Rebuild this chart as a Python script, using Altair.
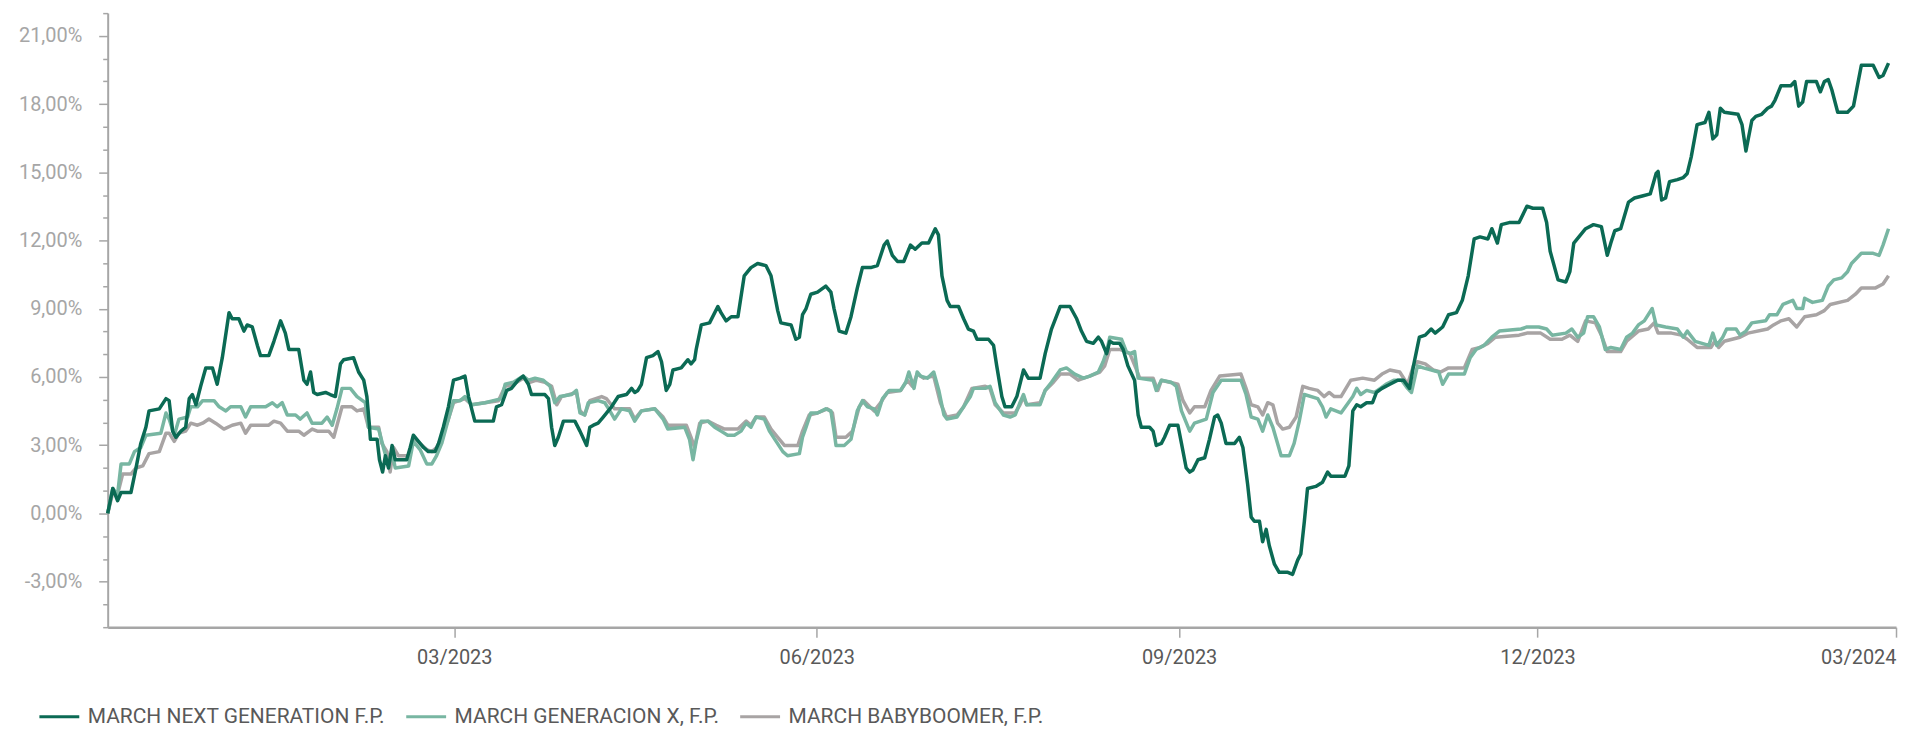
import altair as alt
import pandas as pd

START = "2022-12-03"
SERIES = ["MARCH NEXT GENERATION F.P.", "MARCH GENERACION X, F.P.", "MARCH BABYBOOMER, F.P."]
COLORS = ["#0b6a54", "#78b6a2", "#a8a4a4"]

# days after START, cumulative return in %
ng_days = [0.0, 1.3, 2.5, 3.4, 5.9, 7.2, 8.4, 9.7, 10.5, 13.1, 14.8, 15.6, 16.5, 17.3, 18.6, 19.8, 20.7, 21.5, 22.4, 23.6,
           24.9, 26.6, 27.8, 29.1, 30.8, 31.6, 33.3, 34.6, 35.4, 36.7, 38.0, 38.8, 40.9, 42.2, 43.9, 45.1, 46.0, 48.5, 49.8, 50.6,
           51.5, 52.3, 53.2, 55.3, 56.5, 57.8, 59.1, 59.9, 62.4, 63.7, 65.0, 65.8, 66.4, 66.7, 68.4, 69.0, 69.8, 70.5, 71.3, 72.2,
           73.0, 75.9, 76.8, 77.6, 78.9, 80.2, 81.4, 83.1, 84.0, 85.2, 86.5, 87.8, 89.5, 90.7, 91.6, 93.2, 97.9, 98.7, 100.0, 101.3,
           102.5, 104.2, 105.5, 106.8, 107.6, 111.0, 111.9, 112.7, 113.5, 114.4, 115.7, 118.6, 119.9, 121.6, 122.4, 123.3, 124.5, 125.8, 127.9, 129.6,
           131.7, 133.0, 133.8, 134.6, 135.5, 136.8, 138.4, 139.7, 140.6, 141.8, 142.7, 143.5, 145.6, 147.3, 148.1, 149.0, 149.4, 150.7, 152.8, 154.9,
           155.7, 157.0, 158.3, 160.0, 161.6, 163.3, 165.0, 167.1, 168.4, 170.1, 170.9, 173.5, 174.7, 175.6, 176.4, 177.3, 178.5, 180.2, 182.3, 183.6,
           184.4, 185.7, 187.4, 188.7, 190.3, 191.6, 193.7, 195.4, 197.1, 197.9, 199.2, 200.5, 202.1, 203.8, 205.0, 206.7, 208.4, 210.1, 210.9, 211.8,
           213.1, 213.9, 216.0, 217.3, 218.5, 219.8, 220.7, 223.6, 224.9, 225.7, 227.0, 227.8, 229.5, 230.8, 232.5, 233.7, 236.7, 238.0, 239.6, 241.8,
           244.3, 246.0, 247.2, 248.5, 250.2, 251.5, 252.3, 253.6, 254.4, 255.3, 256.9, 257.8, 259.0, 260.7, 261.6, 262.4, 264.5, 265.4, 266.2, 267.5,
           268.3, 269.6, 271.7, 272.6, 273.8, 274.7, 275.5, 276.8, 278.5, 279.7, 281.0, 281.8, 282.7, 283.9, 286.1, 287.3, 288.2, 289.4, 290.3, 291.1,
           292.4, 293.2, 294.1, 294.9, 296.2, 297.4, 299.6, 300.8, 302.1, 302.9, 303.8, 304.6, 306.7, 308.4, 309.7, 310.5, 312.6, 314.1, 315.1, 316.1,
           317.1, 318.1, 319.6, 321.1, 322.1, 323.5, 325.5, 327.5, 329.0, 330.5, 331.5, 333.0, 334.5, 336.0, 337.0, 338.9, 340.4, 342.4, 343.9, 345.4,
           346.9, 348.4, 350.4, 351.4, 352.8, 353.8, 355.8, 358.3, 360.3, 361.8, 364.3, 365.3, 366.2, 368.2, 370.2, 371.2, 372.2, 375.2, 377.2, 379.2,
           380.7, 381.6, 382.6, 384.1, 386.1, 387.6, 389.6, 391.6, 393.1, 393.6, 394.5, 395.5, 396.5, 398.5, 400.0, 401.0, 402.0, 403.5, 405.5, 406.5,
           407.5, 408.5, 409.4, 410.4, 413.9, 414.9, 415.9, 417.4, 418.4, 419.9, 421.4, 422.4, 423.3, 424.8, 427.3, 428.3, 429.3, 430.3, 431.3, 433.8,
           434.8, 435.8, 436.8, 437.7, 439.2, 441.7, 443.2, 445.2, 448.2, 449.7, 450.7, 452.1]
ng_vals = [0.00, 1.10, 0.56, 0.92, 0.92, 2.00, 3.08, 3.79, 4.51, 4.60, 5.05, 4.96, 3.62, 3.35, 3.62, 3.79, 5.05, 5.23, 4.78, 5.59,
           6.40, 6.40, 5.68, 6.85, 8.83, 8.56, 8.56, 8.02, 8.29, 8.20, 7.39, 6.94, 6.94, 7.57, 8.47, 7.93, 7.21, 7.21, 5.86, 5.68,
           6.22, 5.32, 5.23, 5.32, 5.23, 5.14, 6.58, 6.76, 6.85, 6.22, 5.86, 5.14, 3.97, 3.26, 3.26, 2.36, 1.82, 2.54, 2.00, 2.99,
           2.36, 2.36, 2.90, 3.44, 3.17, 2.90, 2.72, 2.72, 3.08, 3.79, 4.69, 5.86, 5.95, 6.04, 5.14, 4.06, 4.06, 4.69, 4.78, 5.41,
           5.50, 5.86, 6.04, 5.68, 5.23, 5.23, 5.05, 3.79, 2.99, 3.35, 4.06, 4.06, 3.62, 2.99, 3.79, 3.88, 3.97, 4.24, 4.69, 5.14,
           5.23, 5.50, 5.32, 5.41, 5.68, 6.85, 6.94, 7.12, 6.67, 5.41, 5.68, 6.31, 6.40, 6.76, 6.58, 6.76, 7.21, 8.29, 8.38, 9.10,
           8.83, 8.47, 8.65, 8.65, 10.45, 10.81, 10.99, 10.90, 10.45, 8.92, 8.38, 8.29, 7.66, 7.75, 8.74, 9.01, 9.64, 9.73, 10.00, 9.73,
           9.01, 8.02, 7.93, 8.65, 9.91, 10.81, 10.81, 10.90, 11.80, 11.98, 11.35, 11.08, 11.08, 11.80, 11.62, 11.89, 11.89, 12.52, 12.25, 10.45,
           9.37, 9.10, 9.10, 8.56, 8.11, 8.02, 7.66, 7.66, 7.39, 6.49, 5.14, 4.69, 4.69, 5.14, 6.31, 5.95, 5.95, 7.03, 8.11, 9.10,
           9.10, 8.56, 8.02, 7.57, 7.48, 7.75, 7.57, 7.03, 7.57, 7.48, 7.48, 7.21, 6.49, 5.86, 4.33, 3.79, 3.79, 3.62, 2.99, 3.08,
           3.35, 3.88, 3.88, 3.08, 2.00, 1.82, 1.91, 2.36, 2.45, 3.26, 4.24, 4.33, 3.97, 3.08, 3.08, 3.35, 2.90, 1.28, -0.16, -0.34,
           -0.34, -1.24, -0.70, -1.42, -2.23, -2.59, -2.59, -2.68, -2.05, -1.78, -0.34, 1.10, 1.19, 1.37, 1.82, 1.64, 1.64, 1.64, 2.09, 4.51,
           4.78, 4.69, 4.87, 4.87, 5.32, 5.50, 5.68, 5.86, 5.86, 5.50, 6.49, 7.75, 7.84, 8.11, 7.93, 8.20, 8.74, 8.83, 9.37, 10.45,
           12.07, 12.16, 12.07, 12.52, 11.89, 12.70, 12.79, 12.79, 13.51, 13.42, 13.42, 12.79, 11.53, 10.27, 10.18, 10.63, 11.89, 12.52, 12.70, 12.61,
           11.35, 11.89, 12.43, 12.52, 13.69, 13.87, 13.96, 14.05, 14.95, 15.04, 13.78, 13.87, 14.59, 14.68, 14.77, 14.95, 15.67, 17.10, 17.19, 17.64,
           16.47, 16.65, 17.82, 17.64, 17.55, 17.10, 15.94, 17.28, 17.46, 17.55, 17.82, 17.91, 18.18, 18.81, 18.81, 18.99, 17.91, 18.09, 18.99, 18.99,
           18.54, 18.99, 19.08, 18.63, 17.64, 17.64, 17.91, 19.71, 19.71, 19.17, 19.26, 19.80]

gx_days = [0.0, 1.3, 2.5, 3.4, 5.5, 6.8, 8.4, 9.7, 13.5, 14.8, 15.6, 16.9, 18.1, 20.3, 21.1, 22.8, 24.1, 27.0, 28.3, 30.0,
           31.2, 33.8, 35.0, 36.3, 40.1, 41.8, 43.0, 44.3, 45.6, 47.7, 48.9, 50.6, 51.9, 54.4, 55.7, 57.0, 58.2, 59.5, 61.6, 63.3,
           65.4, 66.2, 68.8, 70.0, 71.3, 72.2, 73.0, 76.4, 77.6, 79.3, 81.0, 82.3, 83.5, 84.8, 86.5, 87.8, 89.5, 90.7, 92.4, 95.8,
           97.9, 100.0, 100.9, 103.0, 105.5, 106.8, 108.5, 110.6, 112.3, 113.5, 114.8, 117.8, 119.0, 119.9, 121.1, 122.0, 124.5, 126.2, 127.5, 128.7,
           130.4, 132.5, 133.8, 135.5, 138.9, 141.0, 142.2, 146.5, 147.7, 148.6, 149.4, 150.7, 152.4, 154.1, 155.7, 157.4, 159.1, 160.8, 162.1, 163.3,
           164.6, 166.7, 168.0, 169.7, 171.4, 172.6, 175.6, 176.4, 177.3, 178.5, 180.2, 182.3, 183.6, 184.4, 184.9, 187.0, 188.7, 190.3, 191.6, 192.9,
           194.6, 195.4, 196.7, 198.4, 201.3, 202.6, 203.4, 204.7, 205.5, 206.4, 208.1, 209.7, 211.0, 212.3, 213.1, 215.6, 217.3, 219.0, 219.8, 222.8,
           224.0, 225.3, 227.4, 229.1, 230.4, 231.6, 232.5, 233.3, 236.7, 238.0, 239.6, 241.8, 243.4, 245.5, 247.7, 249.3, 251.5, 252.7, 253.6, 254.4,
           257.4, 258.6, 259.5, 260.7, 261.6, 265.4, 266.2, 267.5, 270.0, 271.3, 272.6, 274.7, 275.9, 278.9, 280.6, 282.7, 287.7, 289.0, 290.3, 292.0,
           293.2, 294.5, 295.8, 297.0, 297.9, 300.0, 301.2, 302.5, 303.8, 307.2, 308.4, 309.3, 310.5, 313.1, 316.1, 317.1, 318.1, 319.6, 321.6, 323.1,
           324.5, 326.5, 328.5, 330.0, 331.0, 332.5, 334.0, 337.9, 338.9, 340.4, 344.4, 345.9, 347.4, 349.4, 351.4, 353.3, 358.8, 360.3, 363.3, 365.3,
           366.7, 370.2, 371.7, 373.2, 374.7, 375.7, 377.2, 378.7, 380.2, 381.6, 384.1, 385.6, 387.1, 388.6, 390.1, 392.1, 393.1, 395.5, 398.5, 400.0,
           401.0, 403.0, 406.5, 407.5, 408.5, 410.0, 411.0, 413.4, 414.4, 415.9, 417.4, 420.9, 421.9, 423.8, 425.3, 427.8, 428.8, 430.3, 430.8, 432.8,
           435.3, 436.8, 438.2, 440.2, 441.7, 442.7, 445.2, 448.2, 449.7, 450.7, 452.1]
gx_vals = [0.00, 1.10, 0.83, 2.18, 2.18, 2.72, 2.90, 3.44, 3.53, 4.42, 4.15, 3.44, 4.15, 4.24, 4.69, 4.69, 4.96, 4.96, 4.69, 4.51,
           4.69, 4.69, 4.24, 4.69, 4.69, 4.87, 4.69, 4.87, 4.33, 4.33, 4.15, 4.42, 3.97, 3.97, 4.24, 3.88, 4.60, 5.50, 5.50, 5.14,
           4.87, 3.79, 3.71, 2.90, 2.09, 2.72, 2.00, 2.09, 3.17, 2.81, 2.18, 2.18, 2.54, 3.08, 4.15, 4.96, 4.96, 5.14, 4.78, 4.87,
           4.96, 5.05, 5.68, 5.77, 6.04, 5.86, 5.95, 5.86, 5.59, 4.87, 5.14, 5.23, 5.41, 4.42, 4.33, 4.87, 4.96, 4.87, 4.51, 4.15,
           4.60, 4.51, 4.06, 4.51, 4.60, 4.15, 3.71, 3.79, 3.26, 2.36, 3.17, 4.06, 4.06, 3.79, 3.62, 3.44, 3.44, 3.62, 3.97, 3.79,
           4.24, 4.15, 3.62, 3.17, 2.72, 2.54, 2.63, 3.35, 3.79, 4.42, 4.42, 4.60, 4.51, 3.62, 2.99, 2.99, 3.26, 4.51, 4.96, 4.69,
           4.60, 4.33, 5.05, 5.41, 5.41, 5.77, 6.22, 5.50, 6.22, 6.04, 5.95, 6.22, 5.41, 4.33, 4.15, 4.24, 4.69, 5.14, 5.50, 5.50,
           5.59, 4.87, 4.33, 4.24, 4.33, 4.87, 5.23, 4.78, 4.78, 5.41, 5.77, 6.31, 6.40, 6.13, 5.95, 6.04, 6.22, 6.67, 7.12, 7.75,
           7.66, 7.12, 7.03, 7.12, 5.95, 5.86, 5.41, 5.86, 5.77, 5.59, 4.51, 3.62, 3.97, 4.15, 5.32, 5.86, 5.86, 5.23, 4.24, 4.15,
           3.62, 4.33, 3.79, 3.08, 2.54, 2.54, 3.08, 4.06, 5.23, 5.05, 4.69, 4.24, 4.60, 4.42, 5.14, 5.50, 5.23, 5.41, 5.32, 5.50,
           5.68, 5.86, 5.86, 5.50, 5.32, 6.49, 6.40, 6.22, 5.68, 6.13, 6.13, 6.85, 7.21, 7.39, 7.75, 8.02, 8.11, 8.20, 8.20, 8.11,
           7.84, 7.93, 8.11, 7.75, 7.93, 8.65, 8.65, 8.20, 7.21, 7.30, 7.21, 7.75, 7.93, 8.29, 8.47, 9.01, 8.29, 8.20, 8.11, 7.75,
           8.02, 7.57, 7.39, 7.93, 7.39, 7.75, 8.11, 8.11, 7.84, 8.02, 8.38, 8.47, 8.74, 8.74, 9.19, 9.37, 9.01, 9.01, 9.46, 9.28,
           9.37, 10.00, 10.27, 10.36, 10.63, 10.99, 11.44, 11.44, 11.35, 11.80, 12.52]

bb_days = [0.0, 1.3, 2.5, 3.8, 5.9, 7.2, 8.9, 10.5, 13.1, 14.8, 15.6, 16.9, 18.1, 19.8, 21.1, 22.8, 24.1, 25.7, 27.4, 29.5,
           31.6, 33.8, 35.0, 36.3, 40.9, 42.2, 43.9, 45.6, 48.5, 49.8, 51.9, 53.2, 56.1, 57.4, 59.5, 62.0, 63.3, 65.0, 66.2, 68.8,
           69.6, 70.9, 71.7, 72.6, 73.8, 76.4, 77.6, 79.3, 81.0, 82.3, 83.5, 84.8, 86.5, 87.8, 90.7, 92.4, 95.8, 99.2, 100.9, 103.0,
           105.5, 107.2, 108.9, 111.0, 112.7, 114.0, 115.2, 119.0, 119.9, 121.1, 122.4, 125.4, 126.6, 128.7, 132.5, 133.8, 135.5, 138.9, 141.0, 142.2,
           146.9, 148.1, 149.0, 150.3, 152.4, 154.5, 156.6, 160.0, 162.1, 163.3, 164.6, 166.7, 168.4, 170.1, 171.8, 175.2, 176.4, 178.1, 180.2, 182.7,
           184.0, 184.9, 187.4, 189.1, 190.8, 192.0, 194.6, 196.2, 197.9, 201.3, 203.0, 204.3, 205.5, 207.2, 209.7, 211.4, 212.7, 213.1, 215.6, 217.3,
           219.4, 222.8, 224.0, 225.3, 227.4, 230.4, 231.6, 232.5, 233.3, 236.7, 238.0, 240.1, 241.8, 244.3, 246.4, 249.3, 251.9, 253.1, 254.4, 257.0,
           259.5, 261.2, 262.0, 265.4, 266.6, 267.5, 271.7, 273.0, 274.7, 275.9, 278.5, 280.1, 282.3, 287.7, 289.0, 290.3, 292.0, 293.2, 294.5, 295.8,
           297.0, 298.3, 300.0, 301.7, 303.4, 305.0, 307.2, 308.8, 310.1, 311.4, 313.1, 315.6, 318.6, 321.6, 323.5, 325.5, 328.0, 330.0, 331.5, 332.5,
           334.5, 336.5, 338.4, 340.4, 344.4, 346.4, 348.4, 350.4, 352.3, 358.3, 360.3, 363.8, 366.2, 369.2, 371.2, 373.2, 375.2, 377.7, 379.2, 380.7,
           384.1, 385.6, 388.6, 391.1, 392.6, 393.6, 397.0, 399.5, 401.0, 403.5, 407.0, 408.0, 409.0, 410.4, 414.4, 416.4, 421.4, 422.9, 424.8, 426.8,
           428.8, 430.8, 433.8, 435.8, 437.3, 441.7, 443.7, 445.2, 448.7, 450.7, 452.1]
bb_vals = [0.00, 0.92, 0.83, 1.73, 1.73, 2.00, 2.09, 2.63, 2.72, 3.53, 3.53, 3.17, 3.53, 3.62, 3.97, 3.88, 3.97, 4.15, 3.97, 3.71,
           3.88, 3.97, 3.53, 3.88, 3.88, 4.06, 3.97, 3.62, 3.62, 3.44, 3.71, 3.62, 3.62, 3.35, 4.69, 4.69, 4.51, 4.60, 3.79, 3.79,
           3.08, 2.72, 1.82, 2.90, 2.54, 2.54, 3.35, 3.08, 2.81, 2.72, 2.90, 3.35, 4.15, 4.87, 5.05, 4.78, 4.87, 4.96, 5.59, 5.68,
           5.95, 5.77, 5.86, 5.77, 5.59, 4.78, 5.14, 5.32, 4.51, 4.33, 4.96, 5.14, 5.05, 4.60, 4.60, 4.15, 4.51, 4.60, 4.24, 3.88,
           3.88, 3.35, 2.90, 3.97, 4.06, 3.88, 3.71, 3.71, 4.06, 3.88, 4.24, 4.24, 3.71, 3.35, 2.99, 2.99, 3.62, 4.33, 4.42, 4.60,
           4.42, 3.35, 3.35, 3.62, 4.69, 4.96, 4.51, 4.87, 5.32, 5.41, 5.86, 5.59, 6.13, 5.95, 6.04, 4.87, 4.33, 4.24, 4.33, 4.69,
           5.50, 5.59, 5.50, 4.78, 4.42, 4.42, 4.78, 5.14, 4.78, 4.87, 5.41, 5.77, 6.13, 6.13, 5.86, 6.04, 6.22, 6.49, 7.21, 7.21,
           7.03, 6.31, 5.95, 5.95, 5.41, 5.86, 5.68, 4.96, 4.42, 4.69, 4.69, 5.41, 6.04, 6.13, 5.50, 4.78, 4.69, 4.33, 4.87, 4.78,
           3.97, 3.71, 3.79, 4.24, 5.59, 5.50, 5.41, 5.14, 5.32, 5.14, 5.14, 5.86, 5.95, 5.86, 6.13, 6.31, 6.22, 5.68, 6.49, 6.67,
           6.58, 6.31, 6.22, 6.40, 6.40, 7.21, 7.30, 7.48, 7.75, 7.84, 7.93, 7.93, 7.66, 7.66, 7.84, 7.57, 8.47, 8.38, 7.84, 7.12,
           7.12, 7.57, 8.02, 8.11, 8.38, 7.93, 7.93, 7.84, 7.66, 7.30, 7.30, 7.57, 7.30, 7.57, 7.75, 7.93, 8.11, 8.29, 8.47, 8.56,
           8.20, 8.65, 8.74, 8.92, 9.19, 9.37, 9.64, 9.91, 9.91, 10.09, 10.45]

Y_TICKS = list(range(-5, 23))
X_TICKS = [(2023, 3), (2023, 6), (2023, 9), (2023, 12), (2024, 3)]


def frame(name, days, vals):
    return pd.DataFrame({
        "date": pd.Timestamp(START) + pd.to_timedelta(days, unit="D"),
        "value": vals,
        "series": name,
    })


# draw order: babyboomer first, next generation on top
df = pd.concat([
    frame(SERIES[2], bb_days, bb_vals),
    frame(SERIES[1], gx_days, gx_vals),
    frame(SERIES[0], ng_days, ng_vals),
], ignore_index=True)

FONT = "Roboto"
AXIS_GRAY = "#a6a6a6"

y_label = ("datum.value % 3 === 0 ? (datum.value < 0 ? '-' : '') + "
           "replace(format(abs(datum.value), '.2f'), '.', ',') + '%' : ''")

chart = alt.Chart(df).mark_line(strokeWidth=3.5, strokeJoin="round").encode(
    x=alt.X(
        "date:T",
        scale=alt.Scale(domain=[alt.DateTime(year=2022, month=12, date=3),
                                alt.DateTime(year=2024, month=3, date=1)]),
        axis=alt.Axis(
            values=[alt.DateTime(year=y, month=m, date=1) for y, m in X_TICKS],
            format="%m/%Y", title=None, grid=False,
            tickSize=10, tickColor=AXIS_GRAY, tickWidth=1.5,
            domainColor=AXIS_GRAY, domainWidth=2.5,
            labelColor="#595959", labelFont=FONT, labelFontSize=20,
            labelPadding=10, labelFlush=True, labelOverlap=False,
        ),
    ),
    y=alt.Y(
        "value:Q",
        scale=alt.Scale(domain=[-5, 22], nice=False, zero=False),
        axis=alt.Axis(
            values=Y_TICKS, title=None, grid=False,
            tickSize={"condition": {"test": "datum.value % 3 === 0", "value": 9}, "value": 5},
            tickColor=AXIS_GRAY, tickWidth=1.5,
            domainColor=AXIS_GRAY, domainWidth=2,
            labelExpr=y_label, labelColor=AXIS_GRAY, labelFont=FONT, labelFontSize=20,
            labelPadding=17, labelOverlap=False, labelFlush=False,
        ),
    ),
    color=alt.Color(
        "series:N",
        scale=alt.Scale(domain=SERIES, range=COLORS),
        legend=alt.Legend(
            title=None, orient="none", legendX=-70, legendY=684,
            direction="horizontal", symbolType="stroke", symbolSize=1600,
            symbolStrokeWidth=3, labelFont=FONT, labelFontSize=21,
            labelColor="#595959", labelOffset=7, columnPadding=14, labelLimit=0,
        ),
    ),
).properties(
    width=1794, height=616,
    padding={"left": 100, "top": 4, "right": 4, "bottom": 100},
    autosize=alt.AutoSizeParams(type="none"),
).configure_view(stroke=None)

chart.save("out.html", embed_options={"renderer": "svg", "actions": False})
